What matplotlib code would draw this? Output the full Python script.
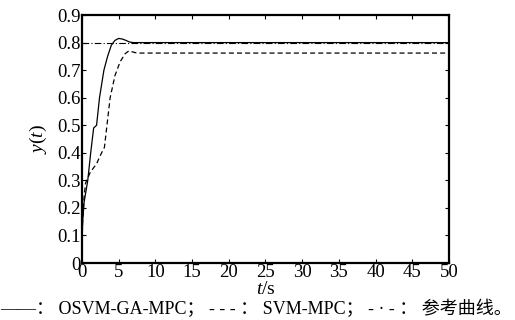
import numpy as np
import matplotlib
matplotlib.use("Agg")
import matplotlib.pyplot as plt
from matplotlib.ticker import FuncFormatter

# curve values
t_osvm = [0, 0.1, 0.3, 0.8, 1.2, 1.6, 2.0, 2.4, 3.0, 3.5, 4.0, 4.5, 5.0, 5.5, 6.0, 6.5, 7.0, 50]
y_osvm = [0.05, 0.15, 0.22, 0.30, 0.40, 0.49, 0.50, 0.60, 0.70, 0.75, 0.79, 0.808, 0.815, 0.813, 0.808, 0.802, 0.80, 0.80]

t_svm = [0, 0.1, 0.3, 0.5, 1.15, 2.0, 2.5, 3.07, 3.5, 3.85, 4.5, 5.2, 5.9, 6.4, 6.8, 7.5, 50]
y_svm = [0.05, 0.15, 0.24, 0.29, 0.33, 0.36, 0.39, 0.42, 0.52, 0.60, 0.68, 0.73, 0.76, 0.77, 0.767, 0.762, 0.762]

t_ref = [0, 50]
y_ref = [0.8, 0.8]

xticks = np.arange(0, 51, 5)
yticks = np.round(np.arange(0, 0.91, 0.1), 1)

plt.rcParams['font.family'] = ['Liberation Serif', 'Noto Sans CJK SC']
plt.rcParams['mathtext.fontset'] = 'custom'
plt.rcParams['mathtext.it'] = 'Liberation Serif:italic'
plt.rcParams['mathtext.rm'] = 'Liberation Serif'

fig = plt.figure(figsize=(5.15, 3.2), dpi=100)
ax = fig.add_axes([0.159, 0.178, 0.713, 0.775])

ax.plot(t_ref, y_ref, color='black', lw=0.8, linestyle=(0, (6, 2, 1, 2)))
ax.plot(t_osvm, y_osvm, color='black', lw=0.9, linestyle='-')
ax.plot(t_svm, y_svm, color='black', lw=0.9, linestyle=(0, (4, 2.5)))

ax.set_xlim(0, 50)
ax.set_ylim(0, 0.9)
ax.set_xticks(xticks)
ax.set_yticks(yticks)
ax.yaxis.set_major_formatter(FuncFormatter(lambda v, p: '%g' % v))
ax.tick_params(direction='in', top=True, right=True, length=3, width=0.8,
               labelsize=13.5, pad=1)
for s in ax.spines.values():
    s.set_linewidth(1.6)

ax.set_ylabel(r'$y(t)$', fontsize=14, labelpad=6)
ax.set_xlabel(r'$t/\mathrm{s}$', fontsize=14, labelpad=0)

fig.text(0.0, 0.035, '——： OSVM-GA-MPC； - - - ： SVM-MPC； - · - ： 参考曲线。',
         fontsize=13, ha='left', va='center')

fig.savefig('out.png', dpi=100)
